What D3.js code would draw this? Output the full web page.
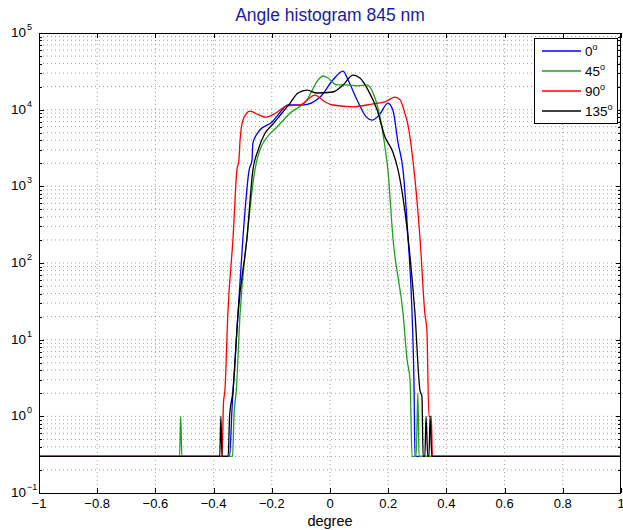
<!DOCTYPE html>
<html>
<head>
<meta charset="utf-8">
<script src="https://cdn.jsdelivr.net/npm/d3@7"></script>
<style>
  body { margin: 0; background: #fff; }
  svg { display: block; font-family: 'Liberation Sans', Arial, sans-serif; }
</style>
</head>
<body>
<svg id="chart"></svg>
<script>
// histogram counts per angle bin, 0 counts drawn at 0.3
const series0 = [[-1, 0.3], [-0.345, 0.3], [-0.337, 1.2], [-0.333, 2.2], [-0.316, 22], [-0.299, 218], [-0.278, 1630], [-0.268, 2200],
  [-0.265, 3670], [-0.241, 5430], [-0.199, 6900], [-0.179, 8500], [-0.144, 11500], [-0.093, 11500], [-0.034, 14600],
  [0.010, 24400], [0.045, 31900], [0.062, 24400], [0.093, 13400], [0.125, 8000], [0.145, 7300], [0.170, 8600], [0.199, 12200],
  [0.216, 9900], [0.234, 3670], [0.251, 1630], [0.268, 218], [0.282, 22], [0.289, 2.2], [0.292, 0.3], [1, 0.3]]
const series45 = [[-1, 0.3], [-0.517, 0.3], [-0.513, 1], [-0.509, 0.3], [-0.335, 0.3], [-0.33, 1.0], [-0.322, 2.2],
  [-0.309, 22], [-0.285, 218], [-0.258, 1630], [-0.251, 2200], [-0.241, 2980], [-0.216, 4400], [-0.182, 5940],
  [-0.137, 9040], [-0.079, 13400], [-0.041, 24400], [-0.024, 27500], [-0.007, 25900], [0.024, 21000], [0.058, 21000],
  [0.093, 20400], [0.127, 21000], [0.148, 16500], [0.172, 8000], [0.189, 3260], [0.199, 1630], [0.216, 218],
  [0.251, 22], [0.265, 5.4], [0.275, 3.0], [0.282, 0.3], [0.296, 0.3], [0.302, 2.0], [0.306, 0.3], [1, 0.3]]
const series90 = [[-1, 0.3], [-0.371, 0.3], [-0.366, 1.5], [-0.361, 2.2], [-0.351, 22], [-0.333, 218], [-0.320, 1630],
  [-0.313, 2200], [-0.309, 4020], [-0.299, 7330], [-0.275, 9600], [-0.258, 9040], [-0.220, 8000], [-0.186, 9040],
  [-0.148, 11200], [-0.103, 11500], [-0.052, 15500], [-0.017, 12600], [0.010, 11500], [0.079, 10900], [0.148, 11900],
  [0.189, 12600], [0.223, 14600], [0.241, 13400], [0.254, 9900], [0.268, 6300], [0.285, 2200], [0.309, 218],
  [0.326, 22], [0.333, 13], [0.340, 1], [0.348, 1], [0.352, 0.3], [1, 0.3]]
const series135 = [[-1, 0.3], [-0.379, 0.3], [-0.375, 1], [-0.371, 0.3], [-0.350, 0.3], [-0.345, 1.0], [-0.333, 2.2],
  [-0.316, 22], [-0.285, 218], [-0.265, 1630], [-0.247, 2980], [-0.223, 4960], [-0.199, 6310], [-0.165, 9040],
  [-0.137, 12200], [-0.110, 16500], [-0.079, 18000], [-0.045, 16500], [0.010, 17000], [0.045, 21000], [0.079, 28300],
  [0.103, 25900], [0.131, 18000], [0.162, 9900], [0.189, 4400], [0.216, 2800], [0.234, 1630], [0.268, 218],
  [0.292, 22], [0.309, 2.2], [0.316, 1.8], [0.320, 0.3], [0.326, 0.3], [0.330, 1], [0.336, 0.3], [0.340, 0.3],
  [0.344, 1], [0.350, 0.3], [1, 0.3]]

const seriesNames = ['0', '45', '90', '135']
const seriesData = [series0, series45, series90, series135]
const seriesColors = ['#0000ff', '#1f9f1f', '#ff0000', '#000000']

const xTicks = [-1, -0.8, -0.6, -0.4, -0.2, 0, 0.2, 0.4, 0.6, 0.8, 1]
const yExponents = [-1, 0, 1, 2, 3, 4, 5]

const width = 623
const height = 530
const margin = {left: 39, right: 2, top: 33, bottom: 37}

const svg = d3.select('#chart').attr('width', width).attr('height', height)

const xScale = d3.scaleLinear().domain([-1, 1]).range([margin.left, width - margin.right])
const yScale = d3.scaleLog().domain([0.1, 1e5]).range([height - margin.bottom, margin.top])

const x0 = xScale.range()[0], x1 = xScale.range()[1]
const y0 = yScale.range()[0], y1 = yScale.range()[1]

// minor y values 2..9 in each decade
const yMinor = []
yExponents.slice(0, -1).forEach(e => {
  for (let k = 2; k <= 9; k++) yMinor.push(k * Math.pow(10, e))
})

const grid = svg.append('g').attr('stroke', '#777').attr('stroke-width', 0.7)
  .attr('stroke-dasharray', '1,3').attr('fill', 'none')
grid.selectAll('.gx').data(xTicks.slice(1, -1)).enter().append('line')
  .attr('x1', d => xScale(d)).attr('x2', d => xScale(d)).attr('y1', y0).attr('y2', y1)
grid.selectAll('.gy').data(yExponents.slice(1, -1).map(e => Math.pow(10, e)).concat(yMinor)).enter().append('line')
  .attr('y1', d => yScale(d)).attr('y2', d => yScale(d)).attr('x1', x0).attr('x2', x1)

// ticks
const ticks = svg.append('g').attr('stroke', '#000').attr('stroke-width', 1)
xTicks.forEach(t => {
  const px = Math.round(xScale(t)) + 0.5
  ticks.append('line').attr('x1', px).attr('x2', px).attr('y1', y0).attr('y2', y0 - 5)
  ticks.append('line').attr('x1', px).attr('x2', px).attr('y1', y1).attr('y2', y1 + 5)
})
yExponents.forEach(e => {
  const py = Math.round(yScale(Math.pow(10, e))) + 0.5
  ticks.append('line').attr('x1', x0).attr('x2', x0 + 5).attr('y1', py).attr('y2', py)
  ticks.append('line').attr('x1', x1).attr('x2', x1 - 5).attr('y1', py).attr('y2', py)
})
yMinor.forEach(v => {
  const py = Math.round(yScale(v)) + 0.5
  ticks.append('line').attr('x1', x0).attr('x2', x0 + 3).attr('y1', py).attr('y2', py)
  ticks.append('line').attr('x1', x1).attr('x2', x1 - 3).attr('y1', py).attr('y2', py)
})

// data lines
const line = d3.line()
  .x(d => xScale(d[0]))
  .y(d => yScale(d[1]))
  .curve(d3.curveMonotoneX)

svg.append('g').selectAll('path').data(seriesData).enter().append('path')
  .attr('d', d => line(d))
  .attr('fill', 'none')
  .attr('stroke', (d, i) => seriesColors[i])
  .attr('stroke-width', 1.3)

// box
svg.append('rect').attr('x', x0 + 0.5).attr('y', y1 + 0.5)
  .attr('width', x1 - x0 - 1).attr('height', y0 - y1)
  .attr('fill', 'none').attr('stroke', '#000').attr('stroke-width', 1)

// tick labels
svg.append('g').selectAll('text').data(xTicks).enter().append('text')
  .attr('x', d => xScale(d))
  .attr('y', y0 + 15)
  .attr('text-anchor', 'middle')
  .attr('font-size', 13)
  .text(d => d < 0 ? '\u2212' + Math.abs(d) : String(d))

const yLabels = svg.append('g')
yExponents.forEach(e => {
  yLabels.append('text')
    .attr('x', x0 - 13)
    .attr('y', yScale(Math.pow(10, e)) + 4)
    .attr('text-anchor', 'end')
    .attr('font-size', 13.5)
    .text('10')
  yLabels.append('text')
    .attr('x', x0 - 12)
    .attr('y', yScale(Math.pow(10, e)) - 3)
    .attr('font-size', 9)
    .text(e < 0 ? '\u2212' + Math.abs(e) : String(e))
})

svg.append('text').attr('x', (x0 + x1) / 2).attr('y', height - 4)
  .attr('text-anchor', 'middle').attr('font-size', 14.5).text('degree')

svg.append('text').attr('x', (x0 + x1) / 2).attr('y', 21)
  .attr('text-anchor', 'middle').attr('font-size', 17.5).attr('fill', '#1a1aa8')
  .text('Angle histogram 845 nm')

// legend
const legend = svg.append('g').attr('transform', 'translate(534,38)')
legend.append('rect').attr('x', 0.5).attr('y', 0.5).attr('width', 83).attr('height', 85)
  .attr('fill', '#fff').attr('stroke', '#000').attr('stroke-width', 1)
seriesNames.forEach((name, i) => {
  const ly = 13 + i * 20
  legend.append('line').attr('x1', 8).attr('x2', 47).attr('y1', ly).attr('y2', ly)
    .attr('stroke', seriesColors[i]).attr('stroke-width', 1.3)
  const t = legend.append('text').attr('x', 51).attr('y', ly + 5).attr('font-size', 13.5)
  t.append('tspan').text(name)
  t.append('tspan').attr('dy', -6).attr('font-size', 9).text('o')
})
</script>
</body>
</html>
